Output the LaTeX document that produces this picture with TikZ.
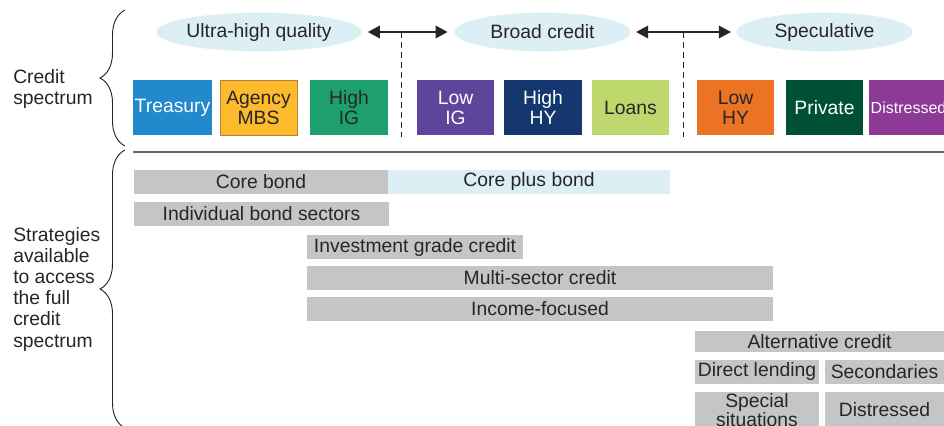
\documentclass[tikz,border=0pt]{standalone}
\usepackage{fontspec}
\setmainfont{Liberation Sans}
\usepackage{tikz}
\usetikzlibrary{arrows.meta,shapes.geometric,decorations.pathreplacing}
\definecolor{inkGray}{RGB}{38,38,38}
\definecolor{ruleGray}{RGB}{105,105,108}
\definecolor{tagBlue}{RGB}{220,239,245}
\definecolor{barGray}{RGB}{197,197,199}
\definecolor{treasuryBlue}{RGB}{34,137,204}
\definecolor{mbsAmber}{RGB}{252,186,44}
\definecolor{mbsEdge}{RGB}{176,130,60}
\definecolor{igGreen}{RGB}{30,160,110}
\definecolor{igPurple}{RGB}{94,68,154}
\definecolor{hyNavy}{RGB}{20,55,112}
\definecolor{loanLime}{RGB}{190,216,110}
\definecolor{hyOrange}{RGB}{235,115,35}
\definecolor{privGreen}{RGB}{0,80,52}
\definecolor{distPlum}{RGB}{140,58,150}

\begin{document}
\begin{tikzpicture}[x=0.75pt,y=-0.75pt,
  every node/.style={font=\fontsize{14.5}{15}\selectfont,text=inkGray},
  zone/.style={ellipse,fill=tagBlue,minimum width=132pt,minimum height=29pt,inner sep=0pt},
  sec/.style={rectangle,minimum width=58pt,minimum height=41pt,inner sep=1pt,align=center},
  bar/.style={rectangle,fill=barGray,minimum height=18pt,inner sep=0pt,align=center},
  lbl/.style={anchor=west,align=left,inner sep=0pt,font=\fontsize{14.5}{15.9}\selectfont},
  arr/.style={{Triangle[length=9pt,width=9.5pt]}-{Triangle[length=9pt,width=9.5pt]},
              line width=0.9pt,draw=inkGray},
  cut/.style={dash pattern=on 4.5pt off 3pt,line width=0.7pt,draw=inkGray},
  brc/.style={decorate,decoration={brace,amplitude=18.75pt},line width=0.7pt,draw=inkGray}
]
  \useasboundingbox (0,0) rectangle (944,425);

  % quality zones
  \node[zone](uhq)   at (259,32)   {Ultra-high quality};
  \node[zone](broad) at (542.5,32) {Broad credit};
  \node[zone](spec)  at (824.5,32) {Speculative};
  \draw[arr,shorten <=4.5pt,shorten >=5pt](uhq.east)--(broad.west);
  \draw[arr,shorten <=4pt,shorten >=4pt](broad.east)--(spec.west);
  \coordinate (cut1) at (401,32);  \coordinate (cut1b) at (401,137);
  \coordinate (cut2) at (683,32);  \coordinate (cut2b) at (683,137);
  \draw[cut](cut1)--(cut1b);
  \draw[cut](cut2)--(cut2b);

  % sectors
  \node[sec,fill=treasuryBlue,text=white](tsy) at (172.5,107.5){Treasury};
  \node[sec,fill=mbsAmber,draw=mbsEdge](mbs)   at (258.5,107.5){Agency\\MBS};
  \node[sec,fill=igGreen](hig)                 at (349,107.5)  {High\\IG};
  \node[sec,fill=igPurple,text=white](lig)     at (455.5,107.5){Low\\IG};
  \node[sec,fill=hyNavy,text=white](hhy)       at (543,107.5)  {High\\HY};
  \node[sec,fill=loanLime](loan)               at (630.5,107.5){Loans};
  \node[sec,fill=hyOrange](lhy)                at (735.5,107.5){Low\\HY};
  \node[sec,fill=privGreen,text=white](priv)   at (824.5,107.5){Private};
  \node[sec,fill=distPlum,text=white,font=\fontsize{12}{14}\selectfont](dist)
       at (908.5,107.5){Distressed};

  \coordinate (ruleL) at (133,152); \coordinate (ruleR) at (944,152);
  \draw[line width=1.8pt,draw=ruleGray](ruleL)--(ruleR);

  % side labels
  \coordinate (b1top) at (125,10);  \coordinate (b1bot) at (125,146);
  \coordinate (b2top) at (125,150); \coordinate (b2bot) at (125,428);
  \draw[brc](b1bot)--(b1top);
  \draw[brc](b2bot)--(b2top);
  \node[lbl](credit) at (13,89) {Credit\\spectrum};
  \node[lbl](strat)  at (13,289){Strategies\\available\\to access\\the full\\credit\\spectrum};

  % strategies
  \node[bar,minimum width=190.5pt](core)             at (261,181.5){Core bond};
  \node[bar,fill=tagBlue,minimum width=211.5pt](cpb) at (529,181.5){Core plus bond};
  \node[bar,minimum width=191.25pt](indiv)           at (261.5,214){Individual bond sectors};
  \node[bar,minimum width=162pt](igc)                at (415,247)  {Investment grade credit};
  \node[bar,minimum width=349.5pt](msc)              at (540,277.5){Multi-sector credit};
  \node[bar,minimum width=349.5pt](inc)              at (540,309)  {Income-focused};
  \node[bar,minimum width=186.75pt,minimum height=16pt](alt) at (819.5,341.5){Alternative credit};
  \node[bar,minimum width=93pt](dl)                  at (757,371.5){Direct lending};
  \node[bar,minimum width=89.25pt](sndry)            at (884.5,371.5){Secondaries};
  \node[bar,minimum width=93pt,minimum height=27pt,font=\fontsize{14.5}{13.5}\selectfont](ss)
       at (757,410){Special\\situations};
  \node[bar,minimum width=89.25pt,minimum height=27pt](dst) at (884.5,410){Distressed};
\end{tikzpicture}
\end{document}
